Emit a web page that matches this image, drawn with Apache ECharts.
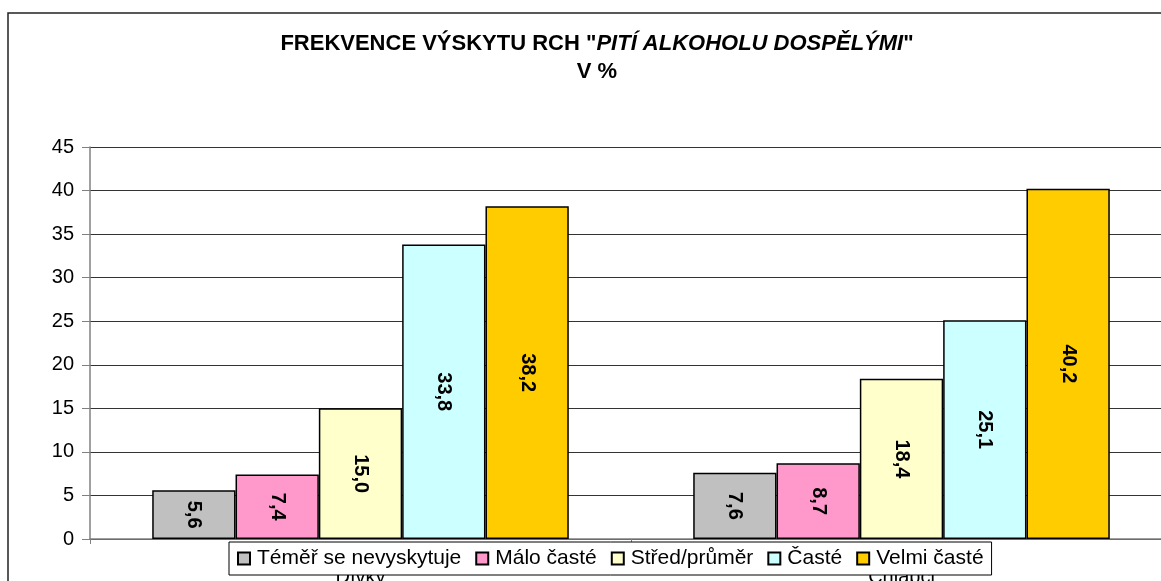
<!DOCTYPE html>
<html>
<head>
<meta charset="utf-8">
<script src="https://cdn.jsdelivr.net/npm/echarts@6/dist/echarts.min.js"></script>
<style>
  html, body { margin: 0; padding: 0; background: #fff; }
  #chart { width: 1161px; height: 581px; }
</style>
</head>
<body>
<div id="chart"></div>
<script>
var categories = ['Dívky', 'Chlapci'];
var seriesNames = ['Téměř se nevyskytuje', 'Málo časté', 'Střed/průměr', 'Časté', 'Velmi časté'];
var temer = [5.6, 7.6];
var malo = [7.4, 8.7];
var stred = [15.0, 18.4];
var caste = [33.8, 25.1];
var velmi = [38.2, 40.2];
var colors = ['#C0C0C0', '#FF99CC', '#FFFFCC', '#CCFFFF', '#FFCC00'];
var yTicks = { min: 0, max: 45, interval: 5 };

var font = '"Liberation Sans", Arial, sans-serif';
var chart = echarts.init(document.getElementById('chart'));

var values = [temer, malo, stred, caste, velmi];
var series = values.map(function (arr, i) {
    return {
        name: seriesNames[i],
        type: 'bar',
        data: arr,
        barGap: '0%',
        barCategoryGap: '23%',
        itemStyle: { color: colors[i], borderColor: '#000', borderWidth: 1.5 },
        label: {
            show: true,
            position: 'inside',
            rotate: -90,
            fontFamily: font,
            fontSize: 20,
            fontWeight: 'bold',
            color: '#000',
            formatter: function (p) { return p.value.toFixed(1).replace('.', ','); }
        }
    };
});

var option = {
    animation: false,
    textStyle: { fontFamily: font },
    graphic: [
        {
            type: 'rect',
            shape: { x: 8, y: 13, width: 1300, height: 700 },
            style: { fill: 'none', stroke: '#222', lineWidth: 1.5 },
            silent: true
        },
        {
            type: 'text',
            x: 597,
            y: 58,
            style: {
                text: '{b|FREKVENCE VÝSKYTU RCH "}{i|PITÍ ALKOHOLU DOSPĚLÝMI}{b|"}\n{b|V %}',
                align: 'center',
                verticalAlign: 'middle',
                rich: {
                    b: { fontFamily: font, fontSize: 22, fontWeight: 'bold', fill: '#000', lineHeight: 28 },
                    i: { fontFamily: font, fontSize: 22, fontWeight: 'bold', fontStyle: 'italic', fill: '#000', lineHeight: 28 }
                }
            }
        }
    ],
    grid: { left: 90, top: 147, bottom: 42, width: 1082, outerBoundsMode: 'none' },
    legend: {
        left: 229,
        top: 542,
        backgroundColor: '#fff',
        borderColor: '#000',
        borderWidth: 1,
        padding: [6, 8],
        itemWidth: 12,
        itemHeight: 12,
        itemGap: 14,
        icon: 'rect',
        textStyle: { fontFamily: font, fontSize: 21, color: '#000', padding: [0, 0, 0, 2] },
        data: seriesNames
    },
    xAxis: {
        type: 'category',
        data: categories,
        axisLine: { lineStyle: { color: '#808080', width: 1.5 } },
        axisTick: { show: true, length: 5, lineStyle: { color: '#808080' } },
        axisLabel: { fontFamily: font, fontSize: 20, color: '#000', margin: 28 }
    },
    yAxis: {
        type: 'value',
        min: yTicks.min,
        max: yTicks.max,
        interval: yTicks.interval,
        axisLine: { show: true, lineStyle: { color: '#808080', width: 1.5 } },
        axisTick: { show: true, length: 8, lineStyle: { color: '#808080' } },
        axisLabel: { fontFamily: font, fontSize: 20, color: '#000', margin: 16 },
        splitLine: { lineStyle: { color: '#333', width: 1 } }
    },
    series: series
};
chart.setOption(option);
</script>
</body>
</html>
